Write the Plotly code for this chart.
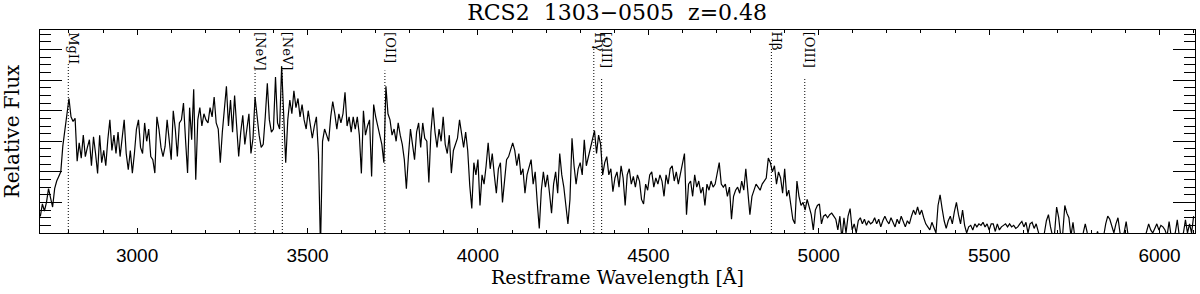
import numpy as np
import plotly.graph_objects as go

# Widmo (strumień względny), próbkowanie co 6 A od 2716 A
lam_start = 2716.0
lam_step = 6.0
flux = [
    .54, .95, .72, 1.0, 1.45, 1.1, .85, 1.45, 1.7, 1.85,
    2.0, 2.85, 3.35, 3.8, 4.4, 3.8, 3.65, 3.75, 2.35, 2.95,
    2.45, 3.2, 2.5, 2.8, 3.05, 2.2, 3.15, 2.6, 1.95, 3.2,
    2.3, 2.7, 2.2, 3.05, 3.7, 2.7, 3.2, 2.6, 3.3, 2.5,
    3.05, 3.7, 2.6, 2.07, 2.7, 1.96, 2.6, 3.4, 3.7, 2.8,
    2.6, 3.6, 3.0, 3.4, 2.5, 2.4, 1.96, 3.8, 3.4, 2.8,
    2.5, 2.83, 3.7, 3.05, 2.4, 4.0, 3.4, 2.5, 3.6, 3.7,
    4.25, 3.05, 1.96, 4.1, 3.05, 4.7, 1.74, 3.7, 4.1, 3.5,
    3.9, 3.7, 3.6, 4.1, 3.8, 4.45, 3.6, 3.4, 2.3, 3.3,
    4.1, 4.8, 3.5, 4.35,
    3.3, 4.5, 3.5, 2.5, 3.3, 3.85, 2.9, 3.5, 3.9, 2.6,
    3.1, 4.45, 3.7, 3.2, 2.8, 2.9, 3.8, 4.9, 3.7, 3.3,
    3.4, 5.1, 3.6, 3.4, 5.45, 3.8, 2.3, 3.7, 4.35, 3.9,
    4.65, 4.1, 4.4, 3.8, 4.2, 3.7, 3.4, 4.0, 3.6, 3.1,
    3.5, 3.8, 2.6, -0.5, 3.0, 3.4, 3.2, 3.0, 3.8, 4.3,
    3.9, 3.4, 3.9, 3.6, 3.9, 4.6, 3.5, 3.8, 3.3, 3.8,
    3.4, 3.8, 3.2, 1.95, 4.0, 3.2, 3.5, 3.7, 1.85, 4.2,
    3.8, 3.5, 3.3, 2.9, 2.3, 4.8, 3.9, 3.7, 3.2, 3.4,
    3.0, 3.6, 3.2, 2.9, 2.4, 1.45, 2.5, 3.4, 2.9, 2.4,
    3.3, 3.6, 2.8,
    3.6, 3.1, 3.0, 1.65, 3.3, 4.1, 3.3, 2.8, 3.4, 3.0,
    3.8, 2.9, 2.6, 3.2, 1.96, 2.7, 2.9, 3.1, 3.7, 3.2,
    2.8, 3.3, 2.7, 1.55, 0.8, 2.3, 1.9, 2.4, 0.9, 1.9,
    1.6, 2.2, 2.95, 2.1, 2.6, 1.9, 1.3, 2.1, 2.3, 1.0,
    1.8, 2.4, 2.5, 2.7, 2.95, 2.7, 2.2, 2.6, 1.9, 2.1,
    1.3, 1.9, 2.2, 2.4, 1.6, 2.0, 1.0, 0.15, 1.4, 2.0,
    1.5, 1.9, 1.3, 0.65, 1.6, 2.0, 1.3, 2.6, 1.9, 1.5,
    0.9, 0.3, 1.1, 3.1, 2.2, 1.6, 2.1, 2.3, 1.9, 3.05,
    2.2, 2.5, 2.7, 3.1, 3.35, 2.6, 3.2, 2.9,
    1.9, 2.3, 2.5, 1.9, 2.1, 1.35, 1.8, 2.0, 1.5, 2.2,
    1.8, 0.9, 1.9, 2.1, 1.6, 1.85, 1.5, 1.9, 1.7, 1.1,
    0.95, 1.6, 1.4, 1.9, 2.0, 1.5, 1.8, 1.6, 1.9, 1.7,
    1.2, 1.9, 1.6, 2.1, 2.2, 1.7, 2.0, 1.6, 1.9, 2.3,
    2.6, 0.6, 1.6, 1.7, 1.2, 1.9, 1.5, 1.7, 1.3, 1.5,
    0.9, 1.6, 1.4, 1.7, 1.5, 1.6, 1.9, 2.3, 1.6, 1.5,
    1.6, 1.2, 1.5, 0.45, 1.2, 1.4, 1.5, 1.3, 1.7, 1.4,
    2.1, 1.3, 0.6, 1.2, 1.4, 1.6, 1.5, 1.4, 1.6, 1.7,
    1.8, 2.45, 2.3, 2.0, 2.2, 1.6, 2.0, 1.8, 1.3, 2.1,
    1.2, 1.4, 0.85,
    0.45, 0.3, 1.7, 1.2, 0.9, 1.0, 0.75, 1.1, 0.8, 0.6,
    0.1, 0.75, 0.9, 0.95, 0.3, 0.55, 0.6, 0.5, 0.6, 0.65,
    0.55, 0.45, 0.1, 0.55, -0.2, 0.5, 0.0, 0.55, 0.8, 0.1,
    0.3, 0.0, 0.4, 0.5, 0.3, 0.45, 0.25, 0.4, 0.3, 0.35,
    0.5, 0.3, 0.45, 0.2, 0.4, 0.55, 0.4, 0.3, 0.5, 0.35,
    0.2, 0.45, 0.3, 0.55, 0.35, 0.2, 0.4, 0.3, 0.55, 0.75,
    0.6, 0.85, 0.6, 0.75, 0.5, 0.3, 0.2, 0.1, 0.35, 0.2,
    0.0, 0.9, 1.25, 0.8, 0.4, 0.15, 0.4, 0.55, 0.3, 0.7,
    1.0, 0.6, 0.3, 0.75, 0.25, 0.0, 0.2, 0.25, 0.1, 0.3,
    0.2, 0.3, 0.25, 0.35, 0.2, 0.3, 0.1, 0.3,
    0.3, 0.05, 0.3, 0.1, 0.2, 0.25, 0.3, 0.2, 0.3, 0.2,
    0.25, 0.15, 0.2, 0.3, 0.38, 0.2, 0.35, 0.0, 0.3, 0.35,
    0.15, 0.3, 0.0, -0.2, -0.1, 0.0, 0.4, 0.6, 0.2, -0.1,
    0.0, 0.85, 0.5, -0.1, 0.0, 0.9, 0.65, 0.5, -0.1, 0.35,
    -0.2, -0.1, -0.3, -0.1, 0.0, 0.3, 0.0, -0.2, -0.3, -0.1,
    -0.2, 0.05, -0.2, -0.3, -0.1, 0.3, 0.55, 0.45, 0.2, 0.0,
    0.3, 0.5, 0.0, -0.2, 0.0, 0.37, -0.1, -0.3, -0.2, -0.3,
    -0.1, -0.2, -0.3, -0.1, -0.2, 0.05, 0.3, 0.1, 0.0, 0.15,
    0.3, 0.1, 0.25, 0.2, 0.1, -0.1, 0.37, -0.1, -0.2, 0.0,
    0.43, -0.1, -0.2, 0.0, 0.43, 0.0, 0.3, 0.0, 0.55,
]
wave = lam_start + lam_step * np.arange(len(flux))

# Linie emisyjne
line_names = ["MgII", "[NeV]", "[NeV]", "[OII]", "Hγ", "[OIII]", "Hβ", "[OIII]"]
line_waves = [2798, 3346, 3426, 3727, 4340, 4363, 4861, 4959]

x_range = [2715, 6104]
y_range = [0, 6.64]

serif = "DejaVu Serif"
plot_h = 203  # wysokość obszaru wykresu w px

fig = go.Figure()
fig.add_trace(go.Scatter(x=wave, y=flux, mode="lines",
                         line=dict(color="black", width=1.2), showlegend=False))

for name, w in zip(line_names, line_waves):
    # kropkowana linia kończy się tuż pod etykietą
    top = 1 - (len(name) * 7.5 + 3) / plot_h
    fig.add_shape(type="line", x0=w, x1=w, y0=0, y1=top, xref="x", yref="paper",
                  line=dict(color="black", width=1, dash="1px,2px"))
    fig.add_annotation(x=w, y=1, xref="x", yref="paper", text=name, textangle=90,
                       xanchor="left", yanchor="top", showarrow=False,
                       font=dict(family=serif, size=13, color="black"),
                       borderpad=0, xshift=-3, yshift=-1)

fig.update_layout(
    width=1200, height=294,
    margin=dict(l=40, r=5, t=30, b=61),
    paper_bgcolor="white", plot_bgcolor="white",
    title=dict(text="RCS2\u00a0\u00a01303\u22120505\u00a0\u00a0z=0.48", x=0.5143,
               xanchor="center", y=0.958, yanchor="middle",
               font=dict(family=serif, size=22, color="black")),
    xaxis=dict(range=x_range, tick0=0, dtick=500, ticks="inside", ticklen=5,
               tickcolor="black", showline=True, linecolor="black", linewidth=1,
               mirror="ticks", showgrid=False, zeroline=False,
               tickfont=dict(family="Liberation Sans", size=19, color="black"),
               ticklabelstandoff=5,
               minor=dict(dtick=100, ticks="inside", ticklen=3, tickcolor="black"),
               title=dict(text="Restframe\u00a0Wavelength\u00a0[Å]", standoff=0,
                          font=dict(family=serif, size=19, color="black"))),
    yaxis=dict(range=y_range, tick0=0, dtick=1, ticks="inside", ticklen=22,
               tickcolor="black", showline=True, linecolor="black", linewidth=1,
               mirror="ticks", showgrid=False, zeroline=False, showticklabels=False,
               minor=dict(dtick=0.25, ticks="inside", ticklen=11, tickcolor="black"),
               title=dict(text="Relative\u00a0Flux", standoff=14,
                          font=dict(family=serif, size=20, color="black"))),
)

fig.write_html("out.html", config={"displayModeBar": False},
               post_script="document.body.style.margin='0';")
